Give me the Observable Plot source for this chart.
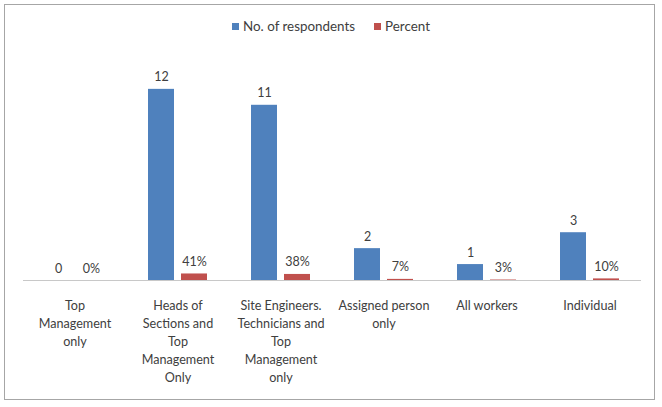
<!DOCTYPE html>
<html>
<head>
<meta charset="utf-8">
<script src="https://cdn.jsdelivr.net/npm/d3@7"></script>
<script src="https://cdn.jsdelivr.net/npm/@observablehq/plot@0.6"></script>
<style>
  html, body { margin: 0; padding: 0; background: #fff; }
  #wrap { position: relative; width: 662px; height: 407px; font-family: Lato, "Open Sans", sans-serif; color: #404040; }
  #frame { position: absolute; left: 4px; top: 4px; width: 649px; height: 394px; border: 1px solid #A6A6A6; pointer-events: none; }
  #legend { height: 44px; display: flex; justify-content: center; align-items: flex-start; gap: 19px; font-size: 13.4px; padding-top: 18px; box-sizing: border-box; }
  #legend span.item { display: inline-flex; align-items: center; gap: 4px; }
  #legend span.sw { display: inline-block; width: 7px; height: 7px; }
  svg { display: block; }
</style>
</head>
<body>
<div id="wrap">
  <div id="legend"></div>
  <div id="chart"></div>
  <div id="frame"></div>
</div>
<script>
const categories = [
  "Top Management only",
  "Heads of Sections and Top Management Only",
  "Site Engineers. Technicians and Top Management only",
  "Assigned person only",
  "All workers",
  "Individual"
];
const categoryLines = [
  "Top\nManagement\nonly",
  "Heads of\nSections and\nTop\nManagement\nOnly",
  "Site Engineers.\nTechnicians and\nTop\nManagement\nonly",
  "Assigned person\nonly",
  "All workers",
  "Individual"
];
const respondents = [0, 12, 11, 2, 1, 3];
const percent = [0, 0.41, 0.38, 0.07, 0.03, 0.10];
const seriesNames = ["No. of respondents", "Percent"];
const seriesColors = ["#4F81BD", "#C0504D"];

const data = [];
categories.forEach((c, i) => {
  data.push({category: c, series: seriesNames[0], value: respondents[i], label: String(respondents[i])});
  data.push({category: c, series: seriesNames[1], value: percent[i], label: d3.format(".0%")(percent[i])});
});

const legend = document.getElementById("legend");
seriesNames.forEach((s, i) => {
  const it = document.createElement("span");
  it.className = "item";
  it.innerHTML = `<span class="sw" style="background:${seriesColors[i]}"></span><span>${s}</span>`;
  legend.appendChild(it);
});

const chart = Plot.plot({
  width: 662,
  height: 363,
  marginLeft: 22,
  marginRight: 20,
  marginTop: 13,
  marginBottom: 127,
  style: {fontFamily: "Lato, 'Open Sans', sans-serif", fontSize: "12.5px", color: "#404040", background: "transparent"},
  fx: {domain: categories, padding: 0, label: null},
  x: {domain: seriesNames, paddingInner: 0.21, paddingOuter: 0.645, axis: null},
  y: {domain: [0, 14], axis: null},
  color: {domain: seriesNames, range: seriesColors},
  marks: [
    Plot.barY(data, {fx: "category", x: "series", y: "value", fill: "series"}),
    Plot.ruleY([0], {stroke: "#C8C8C8", strokeWidth: 1.2}),
    Plot.text(data, {fx: "category", x: "series", y: "value", text: "label", lineAnchor: "bottom", dy: -8, fill: "#404040", fontSize: 12.5}),
    Plot.axisFx({anchor: "bottom", tickSize: 0, tickPadding: 17, lineHeight: 1.43, fontSize: 12.6, label: null,
      tickFormat: (d) => categoryLines[categories.indexOf(d)]})
  ]
});
document.getElementById("chart").appendChild(chart);
</script>
</body>
</html>
